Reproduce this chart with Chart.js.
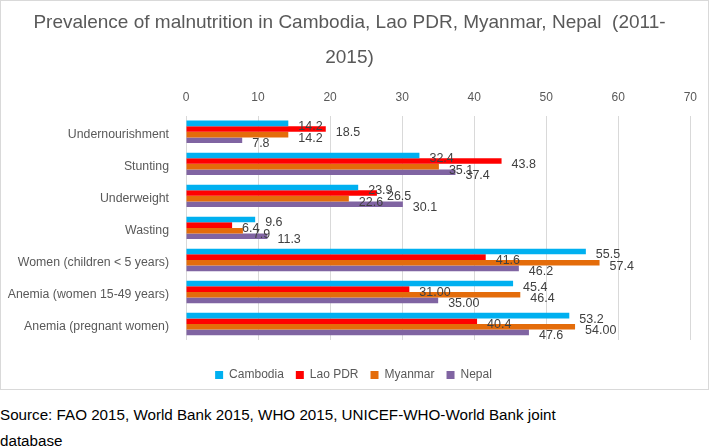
<!DOCTYPE html>
<html>
<head>
<meta charset="utf-8">
<script src="https://cdn.jsdelivr.net/npm/chart.js@4.4.0/dist/chart.umd.min.js"></script>
<style>
    body { margin: 0; background: #fff; font-family: "Liberation Sans", Arial, sans-serif; }
    #frame { position: absolute; left: 0; top: 0; width: 707px; height: 388px; border: 1px solid #d9d9d9; }
    #frame canvas { display: block; }
    .source { position: absolute; left: 0; font-size: 15.2px; color: #000; white-space: nowrap; }
</style>
</head>
<body>
<div id="frame"><canvas id="myChart" width="707" height="388"></canvas></div>
<div class="source" style="top:406px">Source: FAO 2015, World Bank 2015, WHO 2015, UNICEF-WHO-World Bank joint</div>
<div class="source" style="top:432px">database</div>
<script>
const categories = [
    'Undernourishment',
    'Stunting',
    'Underweight',
    'Wasting',
    'Women (children < 5 years)',
    'Anemia (women 15-49 years)',
    'Anemia (pregnant women)'
];

const countries = ['Cambodia', 'Lao PDR', 'Myanmar', 'Nepal'];
const colors = ['#00B0F0', '#FF0000', '#E46C0A', '#8064A2'];

// bar lengths
const cambodiaValues = [14.2, 32.4, 23.9, 9.6, 55.5, 45.4, 53.2];
const laoValues = [19.4, 43.8, 26.5, 6.4, 41.6, 31.0, 40.4];
const myanmarValues = [14.2, 35.1, 22.6, 7.9, 57.4, 46.4, 54.0];
const nepalValues = [7.8, 37.4, 30.1, 11.3, 46.2, 35.0, 47.6];

// label texts as printed next to the bars
const cambodiaLabels = ['14.2', '32.4', '23.9', '9.6', '55.5', '45.4', '53.2'];
const laoLabels = ['18.5', '43.8', '26.5', '6.4', '41.6', '31.00', '40.4'];
const myanmarLabels = ['14.2', '35.1', '22.6', '7.9', '57.4', '46.4', '54.00'];
const nepalLabels = ['7.8', '37.4', '30.1', '11.3', '46.2', '35.00', '47.6'];

const xTicks = [0, 10, 20, 30, 40, 50, 60, 70];

const seriesValues = [cambodiaValues, laoValues, myanmarValues, nepalValues];
const seriesLabels = [cambodiaLabels, laoLabels, myanmarLabels, nepalLabels];

const FONT = '"Liberation Sans", Arial, sans-serif';

const barLabels = {
    id: 'barLabels',
    afterDatasetsDraw(chart) {
        const ctx = chart.ctx;
        ctx.save();
        ctx.font = '12.5px ' + FONT;
        ctx.fillStyle = '#404040';
        ctx.textAlign = 'left';
        ctx.textBaseline = 'middle';
        chart.data.datasets.forEach((ds, i) => {
            const meta = chart.getDatasetMeta(i);
            meta.data.forEach((bar, j) => {
                ctx.fillText(seriesLabels[i][j], bar.x + 10, bar.y + 3.5);
            });
        });
        ctx.restore();
    }
};

// title and legend sit a little right of the plot's centre in the original
const nudge = {
    id: 'nudge',
    afterLayout(chart) {
        [[chart.titleBlock, 3], [chart.legend, 7]].forEach(([box, dx]) => {
            if (!box) return;
            box.left += dx;
            box.right += dx;
        });
    }
};

const datasets = countries.map((name, i) => ({
    label: name,
    data: seriesValues[i],
    backgroundColor: colors[i],
    borderWidth: 0,
    categoryPercentage: 0.7,
    barPercentage: 1.0
}));

const ctx = document.getElementById('myChart').getContext('2d');
const chart = new Chart(ctx, {
    type: 'bar',
    data: { labels: categories, datasets: datasets },
    plugins: [barLabels, nudge],
    options: {
        indexAxis: 'y',
        responsive: false,
        animation: false,
        layout: { padding: { left: 0, right: 16, top: 0, bottom: -2 } },
        scales: {
            x: {
                position: 'top',
                min: 0,
                max: 70,
                afterBuildTicks(axis) {
                    axis.ticks = xTicks.map(v => ({ value: v }));
                },
                grid: { color: '#d9d9d9', drawTicks: false },
                border: { display: false },
                ticks: {
                    color: '#595959',
                    font: { family: FONT, size: 12 },
                    padding: 11
                }
            },
            // empty bottom axis, only keeps a gap between bars and legend
            gap: {
                type: 'linear',
                position: 'bottom',
                display: true,
                grid: { display: false, drawTicks: false },
                border: { display: false },
                ticks: { display: false },
                afterFit(axis) { axis.height = 17; }
            },
            y: {
                afterFit(axis) { axis.width = 185; },
                grid: { display: false, drawTicks: false },
                border: { display: false },
                ticks: {
                    color: '#595959',
                    font: { family: FONT, size: 12.3 },
                    padding: 17,
                    labelOffset: 3
                }
            }
        },
        plugins: {
            title: {
                display: true,
                text: ['Prevalence of malnutrition in Cambodia, Lao PDR, Myanmar, Nepal  (2011-', '2015)'],
                color: '#595959',
                font: { family: FONT, size: 19, weight: 'normal', lineHeight: 1.8 },
                padding: { top: 5, bottom: 5 }
            },
            legend: {
                position: 'bottom',
                labels: {
                    color: '#595959',
                    font: { family: FONT, size: 12 },
                    boxWidth: 8,
                    boxHeight: 8,
                    padding: 12
                }
            },
            tooltip: { enabled: false }
        }
    }
});
</script>
</body>
</html>
